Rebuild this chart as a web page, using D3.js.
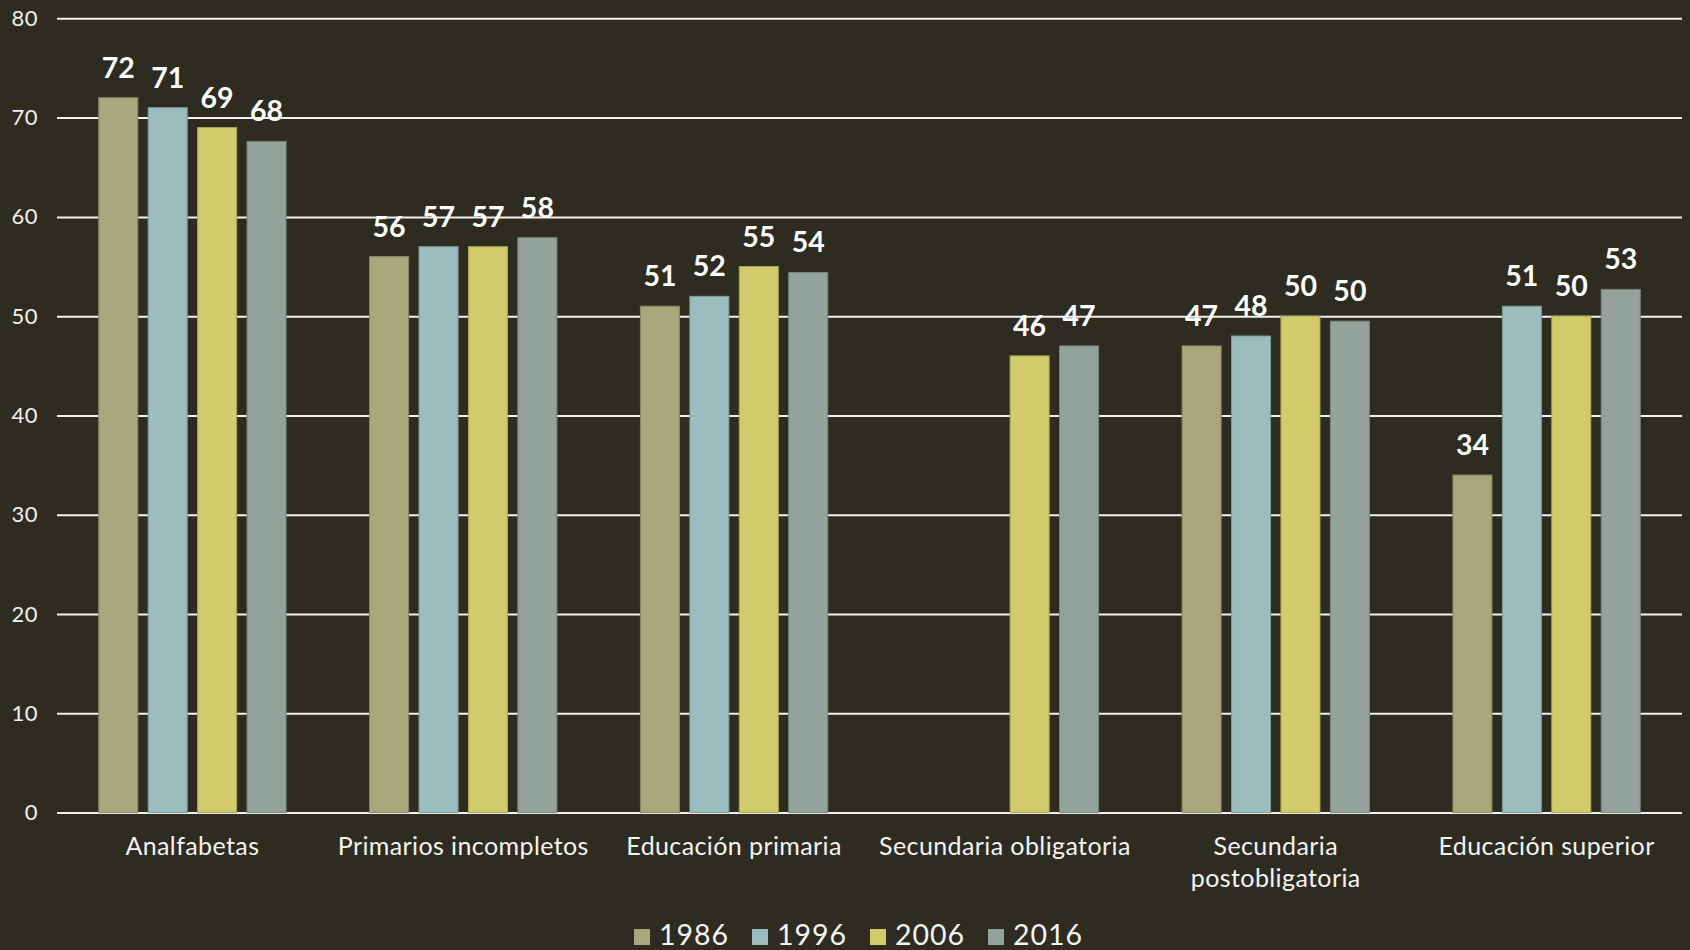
<!DOCTYPE html>
<html>
<head>
<meta charset="utf-8">
<script src="https://cdn.jsdelivr.net/npm/d3@7"></script>
<style>
  html, body { margin: 0; padding: 0; background: #2e2b21; }
  svg { display: block; }
  text { font-family: Lato, "Open Sans", sans-serif; }
</style>
</head>
<body>
<svg id="chart" width="1690" height="950"></svg>
<script>
const categories = ["Analfabetas", "Primarios incompletos", "Educación primaria", "Secundaria obligatoria", "Secundaria\npostobligatoria", "Educación superior"];
const seriesNames = ["1986", "1996", "2006", "2016"];
const values1986 = [72, 56, 51, null, 47, 34];
const values1996 = [71, 57, 52, null, 48, 51];
const values2006 = [69, 57, 55, 46, 50, 50];
const values2016 = [67.6, 57.9, 54.4, 47, 49.5, 52.7];
const yTicks = [0, 10, 20, 30, 40, 50, 60, 70, 80];
const colors = ["#a9a77c", "#9cbdbd", "#d1cb6b", "#93a39b"];

const seriesValues = [values1986, values1996, values2006, values2016];
const data = categories.map((c, i) => ({
  cat: c,
  vals: seriesNames.map((s, j) => ({ key: s, idx: j, v: seriesValues[j][i] }))
}));

const svg = d3.select("#chart");
svg.append("rect").attr("width", 1690).attr("height", 950).attr("fill", "#2e2b21");

const plotLeft = 57, plotRight = 1682, plotTop = 18.3, plotBottom = 812.6;

const y = d3.scaleLinear().domain([0, 80]).range([plotBottom, plotTop]);
const x0 = d3.scaleBand().domain(categories).range([plotLeft, plotRight]).paddingInner(0.27).paddingOuter(0.135);
const x1 = d3.scaleBand().domain(seriesNames).range([0, x0.bandwidth()]).paddingInner(0.21).paddingOuter(0.105);
const color = d3.scaleOrdinal().domain(seriesNames).range(colors);

// gridlines
const yAxis = d3.axisLeft(y).tickValues(yTicks).tickSize(-(plotRight - plotLeft)).tickFormat(d3.format("d"));
const gAxis = svg.append("g").attr("transform", `translate(${plotLeft},0)`).call(yAxis);
gAxis.select(".domain").remove();
gAxis.selectAll(".tick line").attr("stroke", "#f2f2ee").attr("stroke-width", 2);
gAxis.selectAll(".tick text")
  .attr("x", -19)
  .attr("fill", "#f0f0f0")
  .attr("font-size", 22)
  .attr("letter-spacing", 0.5)
  .style("font-family", "Lato, sans-serif");

// bars
const groups = svg.append("g").selectAll("g").data(data).join("g")
  .attr("transform", d => `translate(${x0(d.cat)},0)`);

groups.selectAll("rect").data(d => d.vals.filter(e => e.v != null)).join("rect")
  .attr("x", d => x1(d.key))
  .attr("y", d => y(d.v))
  .attr("width", x1.bandwidth())
  .attr("height", d => y(0) - y(d.v))
  .attr("fill", d => color(d.key))
  .attr("stroke", d => d3.color(color(d.key)).darker(0.6))
  .attr("stroke-width", 1);

groups.selectAll("text").data(d => d.vals.filter(e => e.v != null)).join("text")
  .attr("x", d => x1(d.key) + x1.bandwidth() / 2)
  .attr("y", d => y(d.v) - 20)
  .attr("text-anchor", "middle")
  .attr("fill", "#ffffff")
  .attr("font-size", 28.5)
  .attr("font-weight", "bold")
  .text(d => Math.round(d.v));

// category labels
const xAxisG = svg.append("g");
categories.forEach(c => {
  const lines = c.split("\n");
  const t = xAxisG.append("text")
    .attr("x", x0(c) + x0.bandwidth() / 2)
    .attr("y", 855)
    .attr("text-anchor", "middle")
    .attr("fill", "#f4f4f4")
    .attr("font-size", 25)
    .attr("letter-spacing", 0.4);
  lines.forEach((l, i) => {
    t.append("tspan").attr("x", x0(c) + x0.bandwidth() / 2).attr("dy", i === 0 ? 0 : 32).text(l);
  });
});

// legend
const legend = svg.append("g").attr("transform", "translate(634,0)");
const item = legend.selectAll("g").data(seriesNames).join("g")
  .attr("transform", (d, i) => `translate(${i * 118},0)`);
item.append("rect").attr("x", 0).attr("y", 929).attr("width", 16).attr("height", 16).attr("fill", d => color(d));
item.append("text").attr("x", 25).attr("y", 945).attr("fill", "#f4f4f4").attr("font-size", 28.5).attr("letter-spacing", 1).text(d => d);
</script>
</body>
</html>
